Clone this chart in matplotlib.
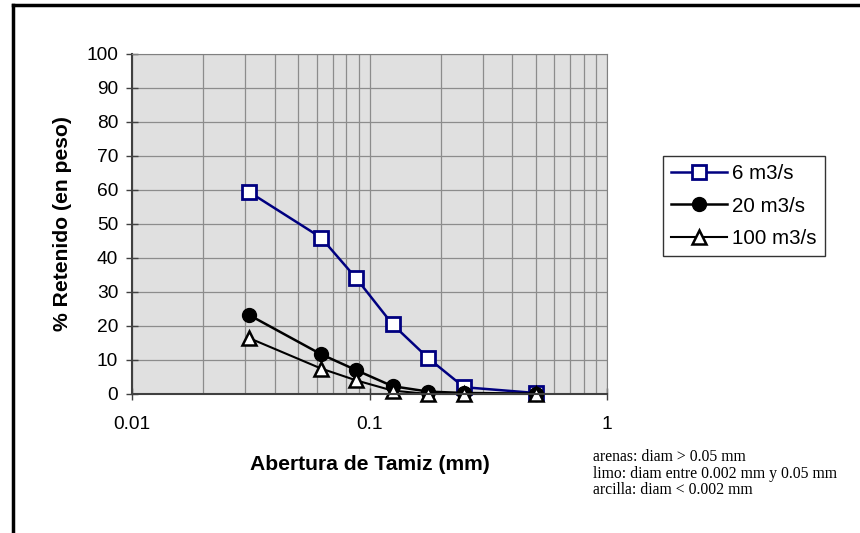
import matplotlib
matplotlib.use('Agg')
import matplotlib.pyplot as plt
from matplotlib.lines import Line2D
from matplotlib.ticker import FixedLocator, NullFormatter

# abertura de tamiz (mm)
abertura = [0.031, 0.0625, 0.088, 0.125, 0.177, 0.25, 0.5]
q6 = [59.5, 46, 34, 20.5, 10.5, 2, 0.3]
q20 = [23.3, 11.7, 7, 2.3, 0.7, 0.3, 0.1]
q100 = [16.5, 7.5, 4, 1, 0, 0, 0]

plt.rcParams['font.family'] = ['Liberation Sans', 'DejaVu Sans']

W, H = 860, 533
fig = plt.figure(figsize=(8.6, 5.33), dpi=100, facecolor='white')
ax = fig.add_axes([132 / W, 1 - 394 / H, (607 - 132) / W, (394 - 54) / H])
ax.set_facecolor('#e0e0e0')

ax.set_xscale('log')
ax.set_xlim(0.01, 1)
ax.set_ylim(0, 100)
ax.set_yticks(range(0, 101, 10))
ax.xaxis.set_major_locator(FixedLocator([0.01, 0.1, 1]))
ax.set_xticklabels(['0.01', '0.1', '1'])
minors = [m * d for d in (0.01, 0.1) for m in range(2, 10)]
ax.xaxis.set_minor_locator(FixedLocator(minors))
ax.xaxis.set_minor_formatter(NullFormatter())

ax.grid(True, which='both', axis='x', color='#8c8c8c', lw=0.9)
ax.grid(True, which='major', axis='y', color='#8c8c8c', lw=0.9)
ax.set_axisbelow(True)

ax.tick_params(axis='both', which='major', direction='inout', length=8, width=1,
               color='#404040', labelsize=13.8, pad=6)
ax.tick_params(axis='x', which='minor', length=0)
ax.tick_params(axis='x', which='major', pad=12)
for s in ['top', 'right']:
    ax.spines[s].set_color('#808080')
for s in ['left', 'bottom']:
    ax.spines[s].set_color('#404040')
    ax.spines[s].set_linewidth(1.5)

ax.plot(abertura, q6, color='#000080', lw=1.8, marker='s', ms=10,
        mfc='white', mec='#000080', mew=2, label='6 m3/s', clip_on=False)
ax.plot(abertura, q20, color='black', lw=1.8, marker='o', ms=10,
        mfc='black', mec='black', label='20 m3/s', clip_on=False)
ax.plot(abertura, q100, color='black', lw=1.5, marker='^', ms=10,
        mfc='white', mec='black', mew=1.8, label='100 m3/s', clip_on=False)

ax.set_xlabel('Abertura de Tamiz (mm)', fontsize=15.2, fontweight='bold', labelpad=16)
ax.set_ylabel('% Retenido (en peso)', fontsize=15.2, fontweight='bold', labelpad=10)

leg = fig.legend(*ax.get_legend_handles_labels(), loc='upper left',
                 bbox_to_anchor=(663 / W, 1 - 156 / H), frameon=True,
                 fancybox=False, edgecolor='black', fontsize=14.8,
                 handlelength=2.7, borderpad=0.4, labelspacing=0.65,
                 handletextpad=0.25, borderaxespad=0)
leg.get_frame().set_linewidth(1)

fig.text(593 / W, 1 - 449 / H, 'arenas: diam > 0.05 mm\nlimo: diam entre 0.002 mm y 0.05 mm\narcilla: diam < 0.002 mm',
         family=['Liberation Serif', 'DejaVu Serif'], fontsize=11.3, va='top', ha='left',
         linespacing=1.05)

# marco del grafico
fig.add_artist(Line2D([13 / W, 1], [1 - 5 / H, 1 - 5 / H], color='black', lw=2.5,
                      transform=fig.transFigure))
fig.add_artist(Line2D([13 / W, 13 / W], [0, 1 - 5 / H], color='black', lw=2.5,
                      transform=fig.transFigure))

plt.savefig('out.png', dpi=100)
